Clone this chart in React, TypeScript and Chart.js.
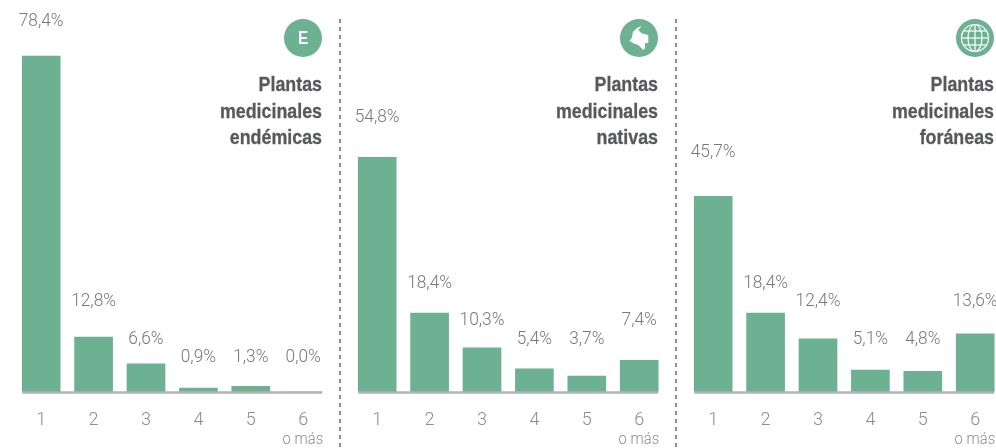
import React, { useEffect, useRef } from "react";
import { Chart, registerables } from "chart.js";

Chart.register(...registerables);

const categories = ["1", "2", "3", "4", "5", "6"];
const endemicas = [78.4, 12.8, 6.6, 0.9, 1.3, 0.0];
const nativas = [54.8, 18.4, 10.3, 5.4, 3.7, 7.4];
const foraneas = [45.7, 18.4, 12.4, 5.1, 4.8, 13.6];
const titleEndemicas = ["Plantas", "medicinales", "endémicas"];
const titleNativas = ["Plantas", "medicinales", "nativas"];
const titleForaneas = ["Plantas", "medicinales", "foráneas"];
const extraLabel = "o más";
// The reference sets its percentage labels on fixed rows, not at a constant gap above each bar.
const labelRowsEndemicas = [20, 300, 338, 356, 356, 356];
const labelRowsNativas = [116, 282, 319, 338, 338, 319];
const labelRowsForaneas = [151, 282, 300, 338, 338, 300];

const GREEN = "#6db193";
const LIGHT = 'Roboto, "Liberation Sans", sans-serif';
const BOLD = '"Liberation Sans", sans-serif';

const panelPlugin = {
  id: "panelMarks",
  afterDatasetsDraw(chart: any, _a: any, opts: any) {
    const { ctx } = chart;
    const meta = chart.getDatasetMeta(0);
    const data = chart.data.datasets[0].data as number[];
    const base = chart.scales.y.getPixelForValue(0);
    const first = meta.data[0];
    const last = meta.data[meta.data.length - 1];
    ctx.save();
    ctx.strokeStyle = "#b3b3b3";
    ctx.lineWidth = 2.5;
    ctx.beginPath();
    ctx.moveTo(first.x - first.width / 2, base + 0.5);
    ctx.lineTo(last.x + last.width / 2, base + 0.5);
    ctx.stroke();
    ctx.textBaseline = "middle";
    const stretched = (text: string, x: number, y: number, sx: number) => {
      ctx.save();
      ctx.translate(x, y);
      ctx.scale(sx, 1);
      ctx.fillText(text, 0, 0);
      ctx.restore();
    };
    ctx.font = `300 18px ${LIGHT}`;
    ctx.fillStyle = "#77787b";
    ctx.textAlign = "center";
    meta.data.forEach((bar: any, i: number) => {
      const label = data[i].toFixed(1).replace(".", ",") + "%";
      stretched(label, bar.x, opts.rows[i] + 1.5, 0.96);
    });
    ctx.font = `300 16.5px ${LIGHT}`;
    ctx.fillStyle = "#8a8c8e";
    ctx.textAlign = "right";
    stretched(extraLabel, last.x + last.width / 2 + 1, 439.5, 0.9);
    ctx.restore();
  },
};

function Panel({ left, values, rows, title, icon }: { left: number; values: number[]; rows: number[]; title: string[]; icon: React.ReactNode }) {
  const ref = useRef<HTMLCanvasElement>(null);
  useEffect(() => {
    const chart = new Chart(ref.current!, {
      type: "bar",
      data: {
        labels: categories,
        datasets: [{ data: values, backgroundColor: GREEN, barThickness: 38, borderWidth: 0 }],
      },
      options: {
        animation: false,
        responsive: false,
        layout: { padding: { left: 15, right: 10.6, top: 0, bottom: 0 } },
        plugins: {
          legend: { display: false },
          tooltip: { enabled: false },
          panelMarks: { rows },
        } as any,
        scales: {
          x: {
            grid: { display: false },
            border: { display: false },
            afterFit: (s: any) => { s.height = 56; },
            ticks: { color: "#8a8c8e", font: { family: LIGHT, size: 18, weight: "300" }, padding: 10, maxRotation: 0 },
          },
          y: { display: false, min: 0, max: 91.5 },
        },
      },
      plugins: [panelPlugin],
    });
    return () => chart.destroy();
  }, []);
  return (
    <div style={{ position: "absolute", left, top: 0, width: 340, height: 448 }}>
      <canvas ref={ref} width={340} height={448} style={{ position: "absolute", left: 0, top: 0 }} />
      <svg width={38} height={38} viewBox="0 0 38 38" style={{ position: "absolute", left: 284, top: 19 }}>
        <circle cx={19} cy={19} r={19} fill={GREEN} />
        {icon}
      </svg>
      <div
        style={{
          position: "absolute", right: 18, top: 71, textAlign: "right", width: 240,
          font: `bold 20.5px/26.5px ${BOLD}`, color: "#58595b",
          WebkitTextStroke: "0.3px #58595b",
          transform: "scaleX(0.87)", transformOrigin: "right top",
        }}
      >
        {title.map((t) => <div key={t}>{t}</div>)}
      </div>
    </div>
  );
}

const iconE = (
  <text x={22.4} y={25.5} textAnchor="middle" fill="#fff" transform="scale(0.85 1)" style={{ font: 'bold 18px "Liberation Sans", sans-serif' }}>E</text>
);
const iconMap = (
  <path
    fill="#fff"
    d="M21.7 7 L17 9 L13 12.7 L11.7 19.3 L9.3 21.7 L13.3 24.3 L18.3 26 L23.3 31 L25 29.3 L25 24.3 L28.3 23.7 L28.3 16 L21.7 14.3 L18.3 11 Z"
  />
);
const iconGlobe = (
  <g fill="none" stroke="#fff" strokeWidth={1.2}>
    <circle cx={19} cy={19} r={13.5} />
    <ellipse cx={19} cy={19} rx={7} ry={13.5} />
    <line x1={19} y1={5.5} x2={19} y2={32.5} />
    <line x1={5.5} y1={19} x2={32.5} y2={19} />
    <line x1={7.5} y1={12} x2={30.5} y2={12} />
    <line x1={7.5} y1={26} x2={30.5} y2={26} />
  </g>
);

export default function App() {
  return (
    <div style={{ position: "absolute", left: 0, top: 0, width: 996, height: 448, overflow: "hidden", background: "#fff" }}>
      <Panel left={0} values={endemicas} rows={labelRowsEndemicas} title={titleEndemicas} icon={iconE} />
      <Panel left={336} values={nativas} rows={labelRowsNativas} title={titleNativas} icon={iconMap} />
      <Panel left={672} values={foraneas} rows={labelRowsForaneas} title={titleForaneas} icon={iconGlobe} />
      <svg width={996} height={448} style={{ position: "absolute", left: 0, top: 0, pointerEvents: "none" }}>
        <line x1={340} y1={19} x2={340} y2={448} stroke="#6d6e71" strokeWidth={1.5} strokeDasharray="4 4" />
        <line x1={676} y1={19} x2={676} y2={448} stroke="#6d6e71" strokeWidth={1.5} strokeDasharray="4 4" />
      </svg>
    </div>
  );
}
